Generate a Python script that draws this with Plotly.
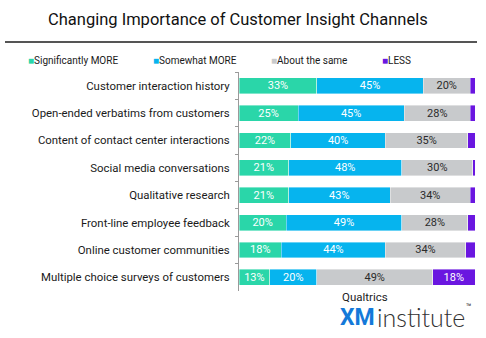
import plotly.graph_objects as go

# Survey results: share of respondents per change in importance (%)
channels = [
    "Customer interaction history",
    "Open-ended verbatims from customers",
    "Content of contact center interactions",
    "Social media conversations",
    "Qualitative research",
    "Front-line employee feedback",
    "Online customer communities",
    "Multiple choice surveys of customers",
]
significantly_more = [33, 25, 22, 21, 21, 20, 18, 13]
somewhat_more = [45, 45, 40, 48, 43, 49, 44, 20]
about_same = [20, 28, 35, 30, 34, 28, 34, 49]
less = [2, 2, 3, 1, 2, 3, 4, 18]

series = [
    ("Significantly MORE", significantly_more, "#2ad6a9", "white"),
    ("Somewhat MORE", somewhat_more, "#06b4ee", "white"),
    ("About the same", about_same, "#c8cacc", "#2b2b2b"),
    ("LESS", less, "#6a16e0", "white"),
]

FONT = "Roboto"

fig = go.Figure()
for name, vals, color, txtcolor in series:
    fig.add_trace(go.Bar(
        y=channels,
        x=vals,
        name=name,
        orientation="h",
        marker=dict(color=color, line=dict(color="white", width=0.4)),
        text=[f"{v}%" if v >= 10 else "" for v in vals],
        textposition="inside",
        insidetextanchor="middle",
        textangle=0,
        constraintext="none",
        textfont=dict(family=FONT, size=11, color=txtcolor),
        showlegend=False,
    ))

fig.update_layout(
    width=486,
    height=338,
    barmode="stack",
    bargap=0.42,
    margin=dict(l=239, r=11, t=72, b=47),
    paper_bgcolor="white",
    plot_bgcolor="white",
    font=dict(family=FONT, color="#1a1a1a"),
    xaxis=dict(range=[0, 100], visible=False, fixedrange=True),
    yaxis=dict(
        autorange="reversed",
        showline=True,
        linecolor="#9a9a9a",
        linewidth=1,
        ticks="outside",
        tickson="boundaries",
        ticklen=3,
        tickcolor="#9a9a9a",
        ticklabelstandoff=6,
        tickfont=dict(family=FONT, size=11.4, color="#1a1a1a"),
        showgrid=False,
    ),
    shapes=[
        dict(type="line", xref="paper", yref="paper",
             x0=-234 / 236, x1=238 / 236, y0=1 + 30 / 219, y1=1 + 30 / 219,
             line=dict(color="#555555", width=2)),
    ],
)

# Title
fig.add_annotation(
    text="Changing Importance of Customer Insight Channels",
    xref="paper", yref="paper", x=(238 - 239) / 236, y=1 + 53 / 219,
    xanchor="center", yanchor="middle", showarrow=False,
    font=dict(family=FONT, size=16.5, color="#111111"),
)

# Legend row
legend_x = [26, 151, 269, 380]
for (name, _, color, _), lx in zip(series, legend_x):
    fig.add_annotation(
        text=f"<span style='color:{color}'>■</span>{name}",
        xref="paper", yref="paper", x=(lx - 239) / 236, y=1 + 11 / 219,
        xanchor="left", yanchor="middle", showarrow=False,
        font=dict(family=FONT, size=10, color="#1a1a1a"),
    )

# Brand mark
fig.add_annotation(
    text="Qualtrics", xref="paper", yref="paper",
    x=(340 - 239) / 236, y=-(297 - 291) / 219,
    xanchor="left", yanchor="middle", showarrow=False,
    font=dict(family=FONT, size=11.5, color="#222222"),
)
fig.add_annotation(
    text="<b>XM</b>", xref="paper", yref="paper",
    x=(338 - 239) / 236, y=-(317 - 291) / 219,
    xanchor="left", yanchor="middle", showarrow=False,
    font=dict(family=FONT, size=23, color="#1479d9"),
)
fig.add_annotation(
    text="institute", xref="paper", yref="paper",
    x=(375 - 239) / 236, y=-(317 - 291) / 219,
    xanchor="left", yanchor="middle", showarrow=False,
    font=dict(family="Lato", size=25, color="#333333", weight=300),
)
fig.add_annotation(
    text="™", xref="paper", yref="paper",
    x=(464 - 239) / 236, y=-(307 - 291) / 219,
    xanchor="left", yanchor="middle", showarrow=False,
    font=dict(family=FONT, size=9, color="#333333"),
)

fig.write_html("out.html")
